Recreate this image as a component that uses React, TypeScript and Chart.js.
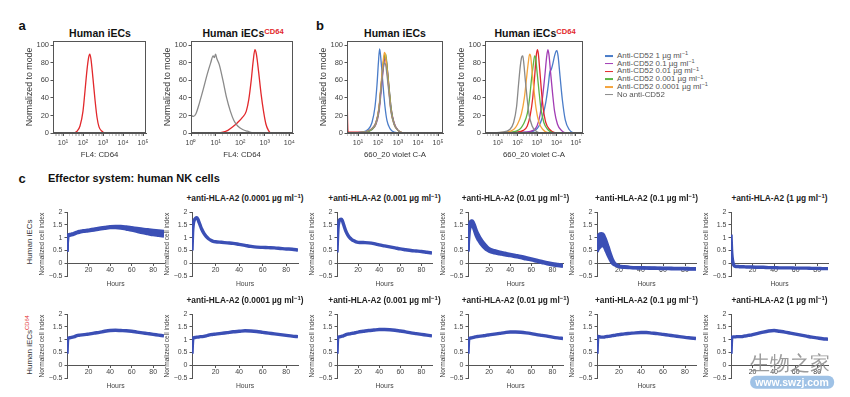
import React, { useEffect, useRef } from 'react';
import { Chart, registerables } from 'chart.js';

Chart.register(...registerables);

const FONT = "'Liberation Sans', Arial, Helvetica, sans-serif";
Chart.defaults.font.family = FONT;

// ---------------- Panels a / b : flow cytometry histograms ----------------
// x values are log10 of fluorescence intensity, y values are % of mode
const logTickLabels = ['10⁰', '10¹', '10²', '10³', '10⁴', '10⁵'];
const histYTicks = [0, 20, 40, 60, 80, 100];

const a1RedLog = [0.5, 1.5, 1.7, 1.85, 2.0, 2.1, 2.2, 2.28, 2.34, 2.4, 2.5, 2.6, 2.7, 2.8, 2.95, 3.1, 5.15];
const a1RedPct = [0, 0, 2, 8, 25, 48, 72, 86, 90, 84, 62, 38, 18, 7, 2, 0, 0];

const a2GrayLog = [0.0, 0.1, 0.2, 0.35, 0.5, 0.65, 0.8, 0.9, 0.95, 1.0, 1.05, 1.15, 1.3, 1.45, 1.6, 1.75, 1.9, 2.1, 2.3, 2.6, 4.15];
const a2GrayPct = [20, 19, 22, 35, 50, 66, 80, 88, 86, 90, 85, 78, 60, 40, 25, 14, 8, 4, 2, 0, 0];
const a2RedLog = [0, 1.0, 1.3, 1.5, 1.7, 1.9, 2.1, 2.25, 2.35, 2.45, 2.53, 2.6, 2.66, 2.75, 2.85, 2.95, 3.05, 3.15, 3.25, 4.15];
const a2RedPct = [0, 0, 1, 3, 7, 12, 18, 25, 38, 60, 82, 95, 90, 70, 45, 25, 10, 3, 0, 0];

const b1GrayLog = [0.45, 1.3, 1.7, 1.9, 2.05, 2.15, 2.25, 2.32, 2.38, 2.45, 2.55, 2.65, 2.8, 3.0, 3.3, 5.25];
const b1GrayPct = [0, 1, 5, 12, 28, 50, 72, 80, 78, 66, 45, 24, 10, 3, 0, 0];
const b1OrangeLog = [0.45, 1.3, 1.7, 1.9, 2.05, 2.15, 2.25, 2.32, 2.38, 2.45, 2.55, 2.65, 2.8, 3.0, 3.3, 5.25];
const b1OrangePct = [0, 1, 5, 12, 30, 55, 80, 92, 88, 72, 48, 25, 10, 3, 0, 0];
const b1GreenLog = [0.45, 1.3, 1.7, 1.9, 2.05, 2.15, 2.25, 2.33, 2.39, 2.46, 2.56, 2.66, 2.8, 3.0, 3.3, 5.25];
const b1GreenPct = [0, 1, 4, 11, 27, 52, 76, 89, 90, 74, 50, 27, 11, 3, 0, 0];
const b1PurpleLog = [0.45, 1.3, 1.7, 1.9, 2.05, 2.15, 2.25, 2.33, 2.4, 2.47, 2.56, 2.66, 2.8, 3.0, 3.3, 5.25];
const b1PurplePct = [0, 1, 4, 10, 24, 46, 70, 84, 85, 72, 50, 28, 12, 3, 0, 0];
const b1BlueLog = [0.45, 1.2, 1.5, 1.7, 1.85, 1.95, 2.02, 2.08, 2.12, 2.18, 2.25, 2.35, 2.45, 2.6, 2.8, 3.1, 5.25];
const b1BluePct = [0, 1, 4, 12, 30, 55, 80, 96, 90, 75, 55, 30, 14, 5, 1, 0, 0];
const b1RedLog = [0.45, 0.5, 1.3, 1.7, 1.9, 2.05, 2.15, 2.25, 2.32, 2.37, 2.44, 2.54, 2.64, 2.8, 3.0, 3.3, 5.25];
const b1RedPct = [48, 1, 1, 5, 12, 28, 52, 76, 87, 88, 76, 52, 28, 11, 3, 0, 0];

const b2GrayLog = [0.33, 1.2, 1.6, 1.8, 1.95, 2.05, 2.15, 2.22, 2.27, 2.32, 2.4, 2.5, 2.6, 2.75, 2.9, 3.2, 5.36];
const b2GrayPct = [0, 1, 4, 12, 30, 55, 78, 87, 88, 80, 60, 38, 20, 8, 3, 0, 0];
const b2OrangeLog = [0.33, 1.4, 1.8, 2.0, 2.2, 2.35, 2.45, 2.55, 2.62, 2.67, 2.75, 2.85, 2.95, 3.1, 3.3, 3.6, 5.36];
const b2OrangePct = [0, 1, 4, 10, 22, 40, 60, 80, 90, 88, 70, 48, 28, 12, 4, 0, 0];
const b2GreenLog = [0.33, 1.7, 2.1, 2.3, 2.5, 2.62, 2.72, 2.82, 2.88, 2.93, 3.0, 3.1, 3.2, 3.35, 3.55, 3.85, 5.36];
const b2GreenPct = [0, 1, 4, 10, 22, 40, 62, 80, 88, 86, 70, 48, 28, 12, 4, 0, 0];
const b2RedLog = [0.33, 1.9, 2.3, 2.5, 2.65, 2.78, 2.88, 2.96, 3.02, 3.07, 3.14, 3.22, 3.32, 3.45, 3.65, 3.95, 5.36];
const b2RedPct = [0, 1, 3, 8, 20, 40, 65, 88, 95, 90, 72, 50, 28, 12, 4, 0, 0];
const b2PurpleLog = [0.33, 2.4, 2.8, 3.0, 3.15, 3.28, 3.4, 3.5, 3.56, 3.62, 3.7, 3.8, 3.9, 4.05, 4.25, 4.5, 5.36];
const b2PurplePct = [0, 1, 3, 8, 20, 40, 65, 88, 95, 88, 68, 45, 25, 10, 3, 0, 0];
const b2BlueLog = [0.33, 2.5, 2.9, 3.1, 3.3, 3.45, 3.58, 3.66, 3.72, 3.8, 3.9, 3.97, 4.02, 4.08, 4.18, 4.3, 4.45, 4.65, 5.0, 5.36];
const b2BluePct = [0, 1, 3, 8, 20, 35, 55, 70, 72, 78, 88, 93, 94, 88, 65, 38, 15, 4, 0, 0];

const legendLabels = [
  'Anti-CD52 1 µg ml',
  'Anti-CD52 0.1 µg ml',
  'Anti-CD52 0.01 µg ml',
  'Anti-CD52 0.001 µg ml',
  'Anti-CD52 0.0001 µg ml',
  'No anti-CD52',
];

// ---------------- Panel c : real-time cell index kinetics ----------------
const hours = [0, 0.5, 1, 2, 3, 4, 5, 6, 7, 8, 10, 12, 14, 16, 18, 20, 25, 30, 35, 40, 45, 50, 55, 60, 65, 70, 75, 80, 85, 90];
const hourTicks = [20, 40, 60, 80];
const cellIndexTicks = [-0.5, 0, 0.5, 1, 1.5, 2];
const doseLabels = ['0.0001', '0.001', '0.01', '0.1', '1'];

// Row 1: human iECs
const r1CtrlHigh = [0.45, 1.0, 1.1, 1.12, 1.13, 1.14, 1.15, 1.16, 1.18, 1.2, 1.23, 1.25, 1.27, 1.28, 1.29, 1.3, 1.33, 1.37, 1.4, 1.43, 1.44, 1.44, 1.42, 1.39, 1.36, 1.33, 1.31, 1.29, 1.27, 1.25];
const r1CtrlLow = [0.45, 0.95, 1.07, 1.09, 1.1, 1.11, 1.12, 1.13, 1.15, 1.17, 1.2, 1.22, 1.24, 1.25, 1.26, 1.27, 1.3, 1.34, 1.37, 1.4, 1.4, 1.38, 1.34, 1.3, 1.25, 1.2, 1.16, 1.12, 1.09, 1.06];
const r1Dose1 = [0.5, 1.2, 1.5, 1.7, 1.76, 1.78, 1.72, 1.6, 1.48, 1.36, 1.18, 1.05, 0.96, 0.9, 0.86, 0.84, 0.82, 0.8, 0.78, 0.74, 0.7, 0.66, 0.63, 0.62, 0.61, 0.6, 0.58, 0.56, 0.55, 0.52];
const r1Dose2 = [0.42, 1.0, 1.4, 1.65, 1.72, 1.73, 1.68, 1.55, 1.42, 1.3, 1.12, 1.0, 0.93, 0.88, 0.84, 0.82, 0.81, 0.8, 0.77, 0.72, 0.68, 0.64, 0.6, 0.56, 0.53, 0.5, 0.48, 0.46, 0.43, 0.4];
const r1Dose3High = [0.5, 1.1, 1.42, 1.6, 1.66, 1.66, 1.6, 1.5, 1.38, 1.27, 1.1, 0.95, 0.83, 0.73, 0.64, 0.57, 0.49, 0.43, 0.39, 0.35, 0.31, 0.27, 0.22, 0.17, 0.12, 0.07, 0.02, -0.02, -0.05, -0.08];
const r1Dose3Low = [0.45, 0.9, 1.2, 1.42, 1.52, 1.52, 1.42, 1.3, 1.18, 1.06, 0.9, 0.77, 0.67, 0.59, 0.52, 0.47, 0.41, 0.37, 0.33, 0.3, 0.26, 0.22, 0.17, 0.13, 0.08, 0.03, -0.02, -0.06, -0.09, -0.12];
const r1Dose4High = [0.5, 0.9, 1.05, 1.12, 1.15, 1.16, 1.15, 1.1, 1.0, 0.9, 0.65, 0.38, 0.15, 0.0, -0.07, -0.11, -0.14, -0.16, -0.17, -0.17, -0.18, -0.18, -0.19, -0.19, -0.19, -0.2, -0.2, -0.2, -0.21, -0.21];
const r1Dose4Low = [0.45, 0.5, 0.55, 0.6, 0.65, 0.68, 0.7, 0.68, 0.62, 0.52, 0.32, 0.15, 0.0, -0.06, -0.1, -0.13, -0.16, -0.17, -0.18, -0.19, -0.19, -0.2, -0.2, -0.21, -0.21, -0.22, -0.22, -0.22, -0.23, -0.23];
const r1Dose5 = [1.12, 0.55, 0.25, 0.0, -0.1, -0.12, -0.13, -0.13, -0.13, -0.14, -0.14, -0.14, -0.15, -0.15, -0.15, -0.15, -0.16, -0.16, -0.17, -0.17, -0.18, -0.18, -0.18, -0.19, -0.19, -0.19, -0.2, -0.2, -0.21, -0.21];

// Row 2: human iECs CD64
const r2Ctrl = [0.45, 0.95, 1.05, 1.07, 1.08, 1.09, 1.1, 1.11, 1.12, 1.14, 1.17, 1.18, 1.19, 1.2, 1.21, 1.22, 1.26, 1.29, 1.33, 1.36, 1.37, 1.36, 1.35, 1.33, 1.3, 1.27, 1.24, 1.21, 1.18, 1.15];
const r2Dose1 = [0.45, 0.95, 1.06, 1.08, 1.09, 1.1, 1.1, 1.11, 1.12, 1.12, 1.13, 1.15, 1.18, 1.2, 1.21, 1.22, 1.25, 1.28, 1.31, 1.33, 1.35, 1.34, 1.32, 1.29, 1.26, 1.23, 1.2, 1.17, 1.14, 1.12];
const r2Dose2 = [0.45, 1.0, 1.1, 1.11, 1.12, 1.13, 1.14, 1.15, 1.17, 1.19, 1.22, 1.23, 1.25, 1.26, 1.28, 1.3, 1.33, 1.36, 1.38, 1.4, 1.4, 1.39, 1.37, 1.34, 1.31, 1.27, 1.24, 1.21, 1.18, 1.15];
const r2Dose3 = [0.45, 0.95, 1.04, 1.06, 1.07, 1.08, 1.09, 1.1, 1.11, 1.12, 1.13, 1.14, 1.15, 1.16, 1.18, 1.19, 1.22, 1.25, 1.28, 1.3, 1.3, 1.29, 1.27, 1.24, 1.2, 1.17, 1.14, 1.1, 1.07, 1.05];
const r2Dose4 = [0.45, 1.0, 1.13, 1.12, 1.11, 1.1, 1.1, 1.1, 1.11, 1.12, 1.13, 1.14, 1.16, 1.17, 1.19, 1.2, 1.23, 1.25, 1.27, 1.28, 1.28, 1.26, 1.24, 1.21, 1.18, 1.15, 1.12, 1.09, 1.07, 1.05];
const r2Dose5 = [0.45, 1.0, 1.1, 1.11, 1.11, 1.11, 1.12, 1.12, 1.12, 1.12, 1.12, 1.14, 1.15, 1.17, 1.18, 1.2, 1.25, 1.3, 1.34, 1.36, 1.33, 1.3, 1.26, 1.22, 1.18, 1.14, 1.1, 1.07, 1.04, 1.02];

// ---------------- styling ----------------
const C_BLUE = '#4a7cc8';
const C_PURPLE = '#a23cb4';
const C_RED = '#e2282c';
const C_GREEN = '#5cb545';
const C_ORANGE = '#f4a43c';
const C_GRAY = '#8a8a8a';
const C_KIN = '#3b4fb5';
const AX = '#555';
const TXT = '#444';

const legendColors = [C_BLUE, C_PURPLE, C_RED, C_GREEN, C_ORANGE, C_GRAY];

const boxPlugin = {
  id: 'boxFrame',
  afterDraw(chart: any) {
    const { ctx, chartArea: a } = chart;
    ctx.save();
    ctx.strokeStyle = AX;
    ctx.lineWidth = 1;
    ctx.strokeRect(Math.round(a.left) + 0.5, Math.round(a.top) + 0.5, Math.round(a.right - a.left) - 1, Math.round(a.bottom - a.top) - 1);
    ctx.restore();
  },
};

type Curve = { log: number[]; pct: number[]; color: string };

function histConfig(xMin: number, xMax: number, xTitle: string, curves: Curve[]) {
  const tickVals: number[] = [];
  for (let e = Math.floor(xMin); e <= Math.ceil(xMax); e++) {
    for (let m = 1; m < 10; m++) {
      const v = m * Math.pow(10, e);
      if (v >= Math.pow(10, xMin) - 1e-9 && v <= Math.pow(10, xMax) + 1e-9) tickVals.push(v);
    }
  }
  const isPow = (v: number) => Math.abs(Math.log10(v) - Math.round(Math.log10(v))) < 1e-6;
  return {
    type: 'line',
    data: {
      datasets: curves.map((c) => ({
        data: c.log.map((e, i) => ({ x: Math.pow(10, e), y: c.pct[i] })),
        borderColor: c.color,
        borderWidth: 1.3,
        pointRadius: 0,
        cubicInterpolationMode: 'monotone',
        fill: false,
      })),
    },
    options: {
      animation: false,
      responsive: false,
      devicePixelRatio: 1,
      layout: { padding: { top: 4, right: 6, left: 0, bottom: 0 } },
      plugins: { legend: { display: false }, tooltip: { enabled: false } },
      scales: {
        x: {
          type: 'logarithmic',
          min: Math.pow(10, xMin),
          max: Math.pow(10, xMax),
          afterBuildTicks: (s: any) => { s.ticks = tickVals.map((v) => ({ value: v, major: isPow(v) })); },
          afterFit: (s: any) => { s.height = 28; },
          ticks: {
            autoSkip: false,
            maxRotation: 0,
            padding: 3,
            font: { size: 7.2 },
            color: TXT,
            callback: (v: number) => (isPow(v) ? logTickLabels[Math.round(Math.log10(v))] : ''),
          },
          grid: {
            drawOnChartArea: false,
            tickLength: 3,
            tickColor: (ctx: any) => (ctx.tick && isPow(ctx.tick.value) ? AX : '#aaa'),
            tickWidth: (ctx: any) => (ctx.tick && isPow(ctx.tick.value) ? 1 : 0.6),
          },
          border: { color: AX },
          title: { display: true, text: xTitle, font: { size: 7.8 }, color: '#333', padding: { top: 0, bottom: 1 } },
        },
        y: {
          min: 0,
          max: 105,
          afterBuildTicks: (s: any) => { s.ticks = histYTicks.map((v) => ({ value: v })); },
          afterFit: (s: any) => { s.width = 40; },
          ticks: { font: { size: 7.5 }, color: TXT, padding: 1.5 },
          grid: { drawOnChartArea: false, tickLength: 2.5, color: AX },
          border: { color: AX },
          title: { display: true, text: 'Normalized to mode', font: { size: 8.8 }, color: '#333', padding: { top: 11.5, bottom: 0 } },
        },
      },
    },
    plugins: [boxPlugin],
  };
}

type Series = { values: number[]; lower?: number[] };

function kinConfig(series: Series) {
  const ds: any[] = [
    {
      data: hours.map((h, i) => ({ x: h, y: series.values[i] })),
      borderColor: C_KIN,
      backgroundColor: C_KIN,
      borderWidth: 3.4,
      pointRadius: 0,
      cubicInterpolationMode: 'monotone',
      fill: false,
    },
  ];
  if (series.lower) {
    ds.push({
      data: hours.map((h, i) => ({ x: h, y: series.lower![i] })),
      borderColor: C_KIN,
      backgroundColor: C_KIN,
      borderWidth: 3.4,
      pointRadius: 0,
      cubicInterpolationMode: 'monotone',
      fill: '-1',
    });
  }
  return {
    type: 'line',
    data: { datasets: ds },
    options: {
      animation: false,
      responsive: false,
      devicePixelRatio: 1,
      layout: { padding: { top: 6, right: 4, left: 0, bottom: 16 } },
      plugins: { legend: { display: false }, tooltip: { enabled: false }, filler: { propagate: false } },
      scales: {
        x: {
          type: 'linear',
          min: 0,
          max: 90,
          position: { y: 0 },
          afterBuildTicks: (s: any) => { s.ticks = hourTicks.map((v) => ({ value: v })); },
          afterFit: (s: any) => { s.height = 24.5; },
          ticks: { autoSkip: false, maxRotation: 0, padding: 1, font: { size: 7 }, color: TXT },
          grid: { drawOnChartArea: false, tickLength: 2, color: AX },
          border: { color: AX },
          title: { display: true, text: 'Hours', font: { size: 6.8 }, color: TXT, padding: { top: 0, bottom: 0 } },
        },
        y: {
          min: -0.5,
          max: 2,
          afterBuildTicks: (s: any) => { s.ticks = cellIndexTicks.map((v) => ({ value: v })); },
          afterFit: (s: any) => { s.width = 44; },
          ticks: {
            font: { size: 7 },
            color: TXT,
            padding: 2,
            callback: (v: number) => (v < 0 ? '−' + Math.abs(v) : String(v)),
          },
          grid: { drawOnChartArea: false, tickLength: 2.5, color: AX },
          border: { color: AX },
          title: { display: true, text: 'Normalized cell index', font: { size: 6.6 }, color: TXT, padding: { top: 15, bottom: 0 } },
        },
      },
    },
  };
}

function ChartCanvas({ x, y, w, h, make }: { x: number; y: number; w: number; h: number; make: () => any }) {
  const ref = useRef<HTMLCanvasElement>(null);
  useEffect(() => {
    const chart = new Chart(ref.current as HTMLCanvasElement, make());
    return () => chart.destroy();
  }, []);
  return (
    <canvas
      ref={ref}
      width={w}
      height={h}
      style={{ position: 'absolute', left: x, top: y, width: w, height: h }}
    />
  );
}

function Txt({ x, y, children, style, left }: { x: number; y: number; children: any; style?: any; left?: boolean }) {
  return (
    <div
      style={{
        position: 'absolute',
        left: x,
        top: y,
        transform: left ? 'translate(0,-50%)' : 'translate(-50%,-50%)',
        whiteSpace: 'nowrap',
        lineHeight: 1,
        ...style,
      }}
    >
      {children}
    </div>
  );
}

const Sup = ({ children, color }: { children: any; color?: string }) => (
  <span style={{ fontSize: '0.72em', position: 'relative', top: '-0.45em', color }}>{children}</span>
);

// histogram panel geometry (box left / right); top 39, bottom 133
const HIST_TOP = 39;
const HIST_BOTTOM = 133;

const histPanels = [
  { boxL: 53, boxR: 146, xMin: 0.5, xMax: 5.15, xTitle: 'FL4: CD64', curves: [{ log: a1RedLog, pct: a1RedPct, color: C_RED }] },
  {
    boxL: 191, boxR: 293, xMin: 0, xMax: 4.15, xTitle: 'FL4: CD64',
    curves: [{ log: a2GrayLog, pct: a2GrayPct, color: C_GRAY }, { log: a2RedLog, pct: a2RedPct, color: C_RED }],
  },
  {
    boxL: 347, boxR: 443, xMin: 0.45, xMax: 5.25, xTitle: '660_20 violet C-A',
    curves: [
      { log: b1GrayLog, pct: b1GrayPct, color: C_GRAY },
      { log: b1OrangeLog, pct: b1OrangePct, color: C_ORANGE },
      { log: b1GreenLog, pct: b1GreenPct, color: C_GREEN },
      { log: b1PurpleLog, pct: b1PurplePct, color: C_PURPLE },
      { log: b1BlueLog, pct: b1BluePct, color: C_BLUE },
      { log: b1RedLog, pct: b1RedPct, color: C_RED },
    ],
  },
  {
    boxL: 485, boxR: 583, xMin: 0.33, xMax: 5.36, xTitle: '660_20 violet C-A',
    curves: [
      { log: b2GrayLog, pct: b2GrayPct, color: C_GRAY },
      { log: b2OrangeLog, pct: b2OrangePct, color: C_ORANGE },
      { log: b2GreenLog, pct: b2GreenPct, color: C_GREEN },
      { log: b2RedLog, pct: b2RedPct, color: C_RED },
      { log: b2PurpleLog, pct: b2PurplePct, color: C_PURPLE },
      { log: b2BlueLog, pct: b2BluePct, color: C_BLUE },
    ],
  },
];

const kinAxisX = [67, 192, 337, 468, 597, 731];
const kinEndX = [164, 298, 432, 563, 696, 828];
const kinRows = [
  {
    top: 212,
    series: [
      { values: r1CtrlHigh, lower: r1CtrlLow },
      { values: r1Dose1 },
      { values: r1Dose2 },
      { values: r1Dose3High, lower: r1Dose3Low },
      { values: r1Dose4High, lower: r1Dose4Low },
      { values: r1Dose5 },
    ] as Series[],
    titleY: 198,
  },
  {
    top: 314,
    series: [
      { values: r2Ctrl },
      { values: r2Dose1 },
      { values: r2Dose2 },
      { values: r2Dose3 },
      { values: r2Dose4 },
      { values: r2Dose5 },
    ] as Series[],
    titleY: 300,
  },
];
const KIN_H = 64;

export default function App() {
  const boldTitle = { fontWeight: 700, fontSize: 10.5, color: '#111' };
  const kinTitle = { fontWeight: 700, fontSize: 8.3, color: '#222' };
  return (
    <div style={{ position: 'absolute', left: 0, top: 0, width: 850, height: 397, background: '#fff', overflow: 'hidden', fontFamily: FONT }}>
      {/* panel letters */}
      <Txt x={22} y={25} style={{ fontWeight: 700, fontSize: 13, color: '#111' }}>a</Txt>
      <Txt x={320} y={25} style={{ fontWeight: 700, fontSize: 13, color: '#111' }}>b</Txt>
      <Txt x={22} y={178} style={{ fontWeight: 700, fontSize: 13, color: '#111' }}>c</Txt>
      <Txt x={48} y={178} left style={{ fontWeight: 700, fontSize: 11, color: '#111' }}>Effector system: human NK cells</Txt>

      {/* histogram titles */}
      <Txt x={100} y={33} style={boldTitle}>Human iECs</Txt>
      <Txt x={243} y={33} style={boldTitle}>Human iECs<Sup color={C_RED}>CD64</Sup></Txt>
      <Txt x={395} y={33} style={boldTitle}>Human iECs</Txt>
      <Txt x={535} y={33} style={boldTitle}>Human iECs<Sup color={C_RED}>CD64</Sup></Txt>

      {histPanels.map((p, i) => (
        <ChartCanvas
          key={'h' + i}
          x={p.boxL - 40}
          y={HIST_TOP - 4}
          w={40 + (p.boxR - p.boxL) + 6}
          h={4 + (HIST_BOTTOM - HIST_TOP) + 28}
          make={() => histConfig(p.xMin, p.xMax, p.xTitle, p.curves)}
        />
      ))}

      {/* legend for panel b */}
      {legendLabels.map((l, i) => (
        <div key={'lg' + i} style={{ position: 'absolute', left: 605, top: 56 + i * 7.7, transform: 'translateY(-50%)', display: 'flex', alignItems: 'center', whiteSpace: 'nowrap', lineHeight: 1 }}>
          <span style={{ display: 'inline-block', width: 8, height: 1.6, background: legendColors[i], marginRight: 4 }} />
          <span style={{ fontSize: 7.9, color: '#555' }}>
            {l}
            {i < 5 ? <Sup>−1</Sup> : null}
          </span>
        </div>
      ))}

      {/* row labels for panel c */}
      <Txt x={30} y={242} style={{ fontSize: 8, color: '#333', transform: 'translate(-50%,-50%) rotate(-90deg)' }}>Human iECs</Txt>
      <Txt x={30} y={345} style={{ fontSize: 8, color: '#333', transform: 'translate(-50%,-50%) rotate(-90deg)' }}>
        Human iECs<Sup color={C_RED}>CD64</Sup>
      </Txt>

      {kinRows.map((row, r) =>
        row.series.map((s, j) => (
          <React.Fragment key={'k' + r + '-' + j}>
            {j > 0 ? (
              <Txt x={(kinAxisX[j] + kinEndX[j]) / 2} y={row.titleY} style={kinTitle}>
                +anti-HLA-A2 ({doseLabels[j - 1]} µg ml<Sup>−1</Sup>)
              </Txt>
            ) : null}
            <ChartCanvas
              x={kinAxisX[j] - 44}
              y={row.top - 6}
              w={44 + (kinEndX[j] - kinAxisX[j]) + 4}
              h={6 + KIN_H + 16}
              make={() => kinConfig(s)}
            />
          </React.Fragment>
        ))
      )}

      {/* watermark */}
      <Txt x={790} y={363} style={{ fontSize: 20, color: '#8a8a8a', opacity: 0.85 }}>生物之家</Txt>
      <Txt x={792} y={382} style={{ fontSize: 10.5, fontWeight: 700, color: '#fff', background: '#9fc2e6', borderRadius: 6, padding: '1px 5px' }}>www.swzj.com</Txt>
    </div>
  );
}
